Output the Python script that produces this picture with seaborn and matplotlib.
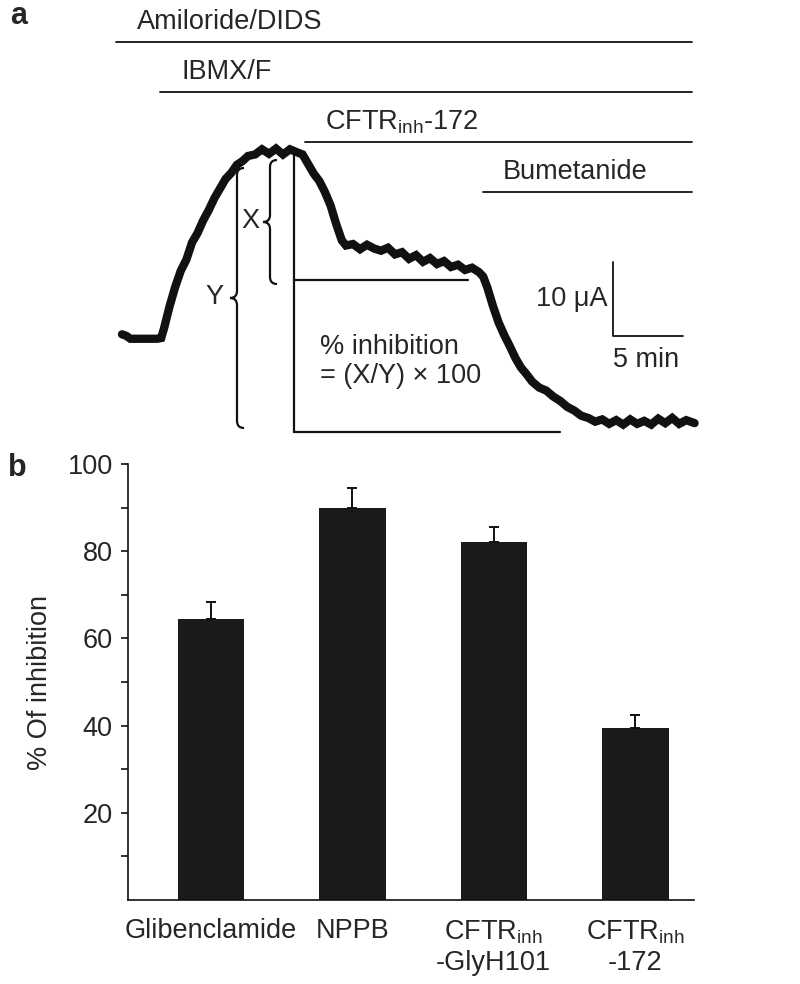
import matplotlib
matplotlib.use("Agg")
import matplotlib.pyplot as plt
from matplotlib.path import Path
from matplotlib.patches import PathPatch
import seaborn as sns

# ---- panel a: current trace (time in min, current in uA above final level)
trace_t = [0.0, 0.3, 0.6, 1.0, 1.5, 2.0, 2.5, 2.8, 3.0, 3.4, 3.8, 4.2, 4.6, 5.0,
           5.4, 5.8, 6.2, 6.6, 7.0, 7.4, 7.8, 8.2, 8.6, 9.0, 9.5, 10.0, 10.5,
           11.0, 11.5, 12.0, 12.5, 12.9, 13.3, 13.7, 14.1, 14.5, 14.9, 15.3,
           15.7, 16.0, 16.5, 17.0, 17.5, 18.0, 18.5, 19.0, 19.5, 20.0, 20.5,
           21.0, 21.5, 22.0, 22.5, 23.0, 23.5, 24.0, 24.5, 25.0, 25.5, 25.8,
           26.1, 26.5, 26.9, 27.3, 27.7, 28.1, 28.5, 28.9, 29.3, 29.8, 30.3,
           30.8, 31.3, 31.8, 32.3, 32.8, 33.3, 33.8, 34.3, 34.8, 35.3, 35.8,
           36.3, 36.8, 37.3, 37.8, 38.3, 38.8, 39.3, 39.8, 40.3, 40.9]
trace_i = [13.2, 13.0, 12.6, 12.6, 12.6, 12.6, 12.6, 12.7, 14.0, 17.0, 19.6,
           21.8, 23.3, 25.6, 26.9, 28.6, 30.0, 31.6, 32.9, 34.2, 35.0, 36.1,
           36.6, 37.3, 37.5, 38.2, 37.6, 38.3, 37.5, 38.2, 37.8, 37.5, 36.2,
           34.9, 33.9, 32.4, 30.6, 28.1, 25.9, 25.2, 25.4, 24.7, 25.3, 24.8,
           24.5, 24.9, 24.0, 24.3, 23.4, 23.9, 23.0, 23.5, 22.7, 23.1, 22.3,
           22.6, 21.9, 22.2, 21.6, 21.0, 19.5, 17.0, 14.8, 13.1, 11.6, 10.0,
           8.7, 7.8, 6.8, 6.0, 5.6, 4.8, 4.2, 3.4, 2.9, 2.2, 1.9, 1.4, 1.7,
           1.1, 1.6, 1.0, 1.7, 1.1, 1.5, 1.0, 1.8, 1.2, 1.9, 1.1, 1.6, 1.2]

drug_names = ["Amiloride/DIDS", "IBMX/F", "CFTR$_{inh}$-172", "Bumetanide"]
drug_start = [-0.4, 2.7, 13.1, 25.8]
drug_end = 40.7

measure_t = 12.3          # time where X and Y are measured
peak_level = 38.1
inhibited_level = 20.5
inhibited_end = 24.7
bottom_end = 31.3

# ---- panel b: % inhibition
inhibitors = ["Glibenclamide", "NPPB", "CFTR$_{inh}$\n-GlyH101", "CFTR$_{inh}$\n-172"]
inhibition = [64.4, 90.0, 82.1, 39.5]
inhibition_sem = [3.9, 4.6, 3.5, 3.0]

sns.set_style("white")
plt.rcParams["font.family"] = ["Liberation Sans", "DejaVu Sans"]
plt.rcParams["mathtext.default"] = "regular"

W, H = 800, 984
FS = 19.5
INK = "#111111"

fig = plt.figure(figsize=(W / 100, H / 100), dpi=100)


def fx(px):
    return px / W


def fy(py):
    return 1 - py / H


# panel a axes: 14 px per minute, 7.4 px per uA
T0_PX, PX_MIN = 122, 14.0
I0_PY, PX_UA = 432, 7.4


def tt(px):
    return (px - T0_PX) / PX_MIN


def ii(py):
    return (I0_PY - py) / PX_UA


ax_a = fig.add_axes([0, fy(440), 1, 440 / H])
ax_a.set_xlim(tt(0), tt(W))
ax_a.set_ylim(ii(440), ii(0))
ax_a.axis("off")

sns.lineplot(x=trace_t, y=trace_i, ax=ax_a, color=INK, lw=6,
             estimator=None, sort=False, solid_joinstyle="miter")

# drug application bars
line_py = [42, 92, 142, 192]
text_px = [137, 182, 325, 503]
for name, start, lpy, tpx in zip(drug_names, drug_start, line_py, text_px):
    ax_a.plot([start, drug_end], [ii(lpy), ii(lpy)], color=INK, lw=1.3)
    ax_a.text(tt(tpx), ii(lpy - 20), name, fontsize=FS, ha="left", va="center")

# measurement lines
ax_a.plot([measure_t, measure_t], [peak_level, 0], color=INK, lw=1.6)
ax_a.plot([measure_t, bottom_end], [0, 0], color=INK, lw=1.6)
ax_a.plot([measure_t, inhibited_end], [inhibited_level, inhibited_level], color=INK, lw=1.6)


def brace(ax, x, y0, y1, w=7):
    ym = (y0 + y1) / 2
    pts = [(x + w, y0), (x, y0), (x, y0 + w), (x, ym - w), (x, ym), (x - w, ym),
           (x, ym), (x, ym + w), (x, y1 - w), (x, y1), (x + w, y1)]
    codes = [Path.MOVETO, Path.CURVE3, Path.CURVE3, Path.LINETO, Path.CURVE3,
             Path.CURVE3, Path.CURVE3, Path.CURVE3, Path.LINETO, Path.CURVE3,
             Path.CURVE3]
    verts = [(tt(px), ii(py)) for px, py in pts]
    ax.add_patch(PathPatch(Path(verts, codes), fill=False, color=INK, lw=1.6))


brace(ax_a, 237, 168, 428)
brace(ax_a, 270, 160, 284)
ax_a.text(tt(214), ii(297), "Y", fontsize=FS, ha="center", va="center")
ax_a.text(tt(250), ii(221), "X", fontsize=FS, ha="center", va="center")
ax_a.text(tt(320), ii(347), "% inhibition", fontsize=FS, ha="left", va="center")
ax_a.text(tt(320), ii(376), "= (X/Y) \u00d7 100", fontsize=FS, ha="left", va="center")

# scale bar 5 min / 10 uA
sb_t, sb_i = tt(613), ii(336)
ax_a.plot([sb_t, sb_t, sb_t + 5], [sb_i + 10, sb_i, sb_i], color=INK, lw=1.3)
ax_a.text(sb_t - 0.4, sb_i + 5, "10 \u03bcA", fontsize=FS, ha="right", va="center")
ax_a.text(sb_t, ii(360), "5 min", fontsize=FS, ha="left", va="center")

fig.text(fx(10), fy(16), "a", fontsize=22, fontweight="bold", ha="left", va="center")

# ---- panel b
ax_b = fig.add_axes([fx(128), fy(900), (694 - 128) / W, 436 / H])
sns.barplot(x=list(range(4)), y=inhibition, ax=ax_b, color="#1a1a1a",
            saturation=1, width=0.47, edgecolor="none", errorbar=None)
ax_b.errorbar(range(4), inhibition, yerr=[[0] * 4, inhibition_sem], fmt="none",
              ecolor=INK, elinewidth=1.4, capsize=3.8, capthick=1.4)
# bars sit slightly right of the category centres in the original
shift = 0.085
ax_b.set_xlim(-0.5 - shift, 3.5 - shift)
ax_b.set_ylim(0, 100)
ax_b.set_xticks([k - 0.5 - shift for k in range(5)])
ax_b.set_xticklabels([])
ax_b.set_xticks(range(4), minor=True)
ax_b.set_xticklabels(inhibitors, minor=True, fontsize=FS, linespacing=1.2)
ax_b.tick_params(axis="x", which="major", length=5, width=1.2, color=INK, direction="out")
ax_b.tick_params(axis="x", which="minor", length=0, pad=13)
ax_b.set_yticks([20, 40, 60, 80, 100])
ax_b.set_yticks([10, 30, 50, 70, 90], minor=True)
ax_b.tick_params(axis="y", which="both", length=5, width=1.2, color=INK,
                 direction="out", labelsize=FS, pad=6, left=True)
ax_b.set_xlabel("")
ax_b.set_ylabel("")
for side in ["top", "right"]:
    ax_b.spines[side].set_visible(False)
for side in ["left", "bottom"]:
    ax_b.spines[side].set_linewidth(1.2)
    ax_b.spines[side].set_color(INK)

fig.text(fx(40), fy(682), "% Of inhibition", fontsize=FS, rotation=90,
         ha="center", va="center")
fig.text(fx(8), fy(468), "b", fontsize=22, fontweight="bold", ha="left", va="center")

fig.savefig("out.png", dpi=100)
